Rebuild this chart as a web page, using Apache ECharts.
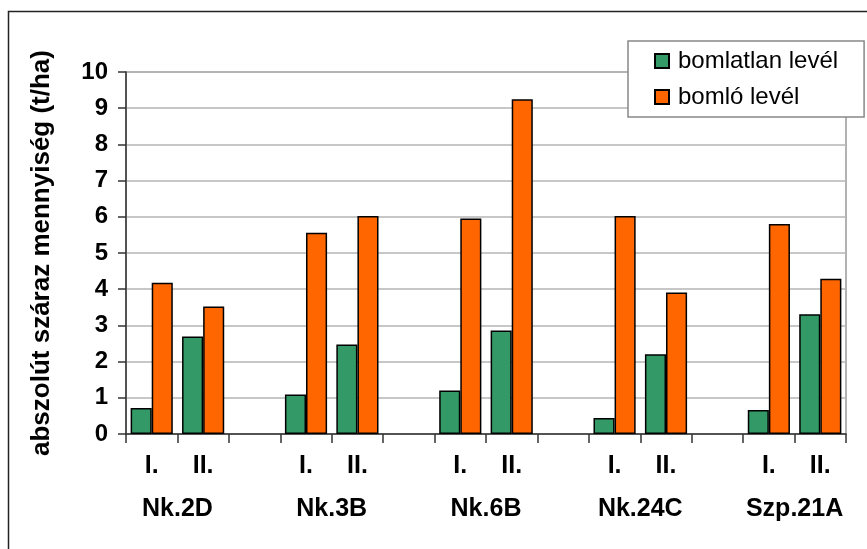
<!DOCTYPE html>
<html>
<head>
<meta charset="utf-8">
<script src="https://cdn.jsdelivr.net/npm/echarts@6/dist/echarts.min.js"></script>
<style>
html,body{margin:0;padding:0;background:#fff;}
#chart{width:867px;height:549px;}
</style>
</head>
<body>
<div id="chart"></div>
<script>
// ---- data ----
var groups = ['Nk.2D', 'Nk.3B', 'Nk.6B', 'Nk.24C', 'Szp.21A'];
var subLabels = ['I.', 'II.'];
var seriesNames = ['bomlatlan levél', 'bomló levél'];
var bomlatlan = [[0.72, 2.69], [1.09, 2.47], [1.20, 2.86], [0.44, 2.20], [0.66, 3.31]];
var bomlo = [[4.18, 3.52], [5.56, 6.02], [5.95, 9.25], [6.02, 3.91], [5.80, 4.29]];
var yTicks = [0, 1, 2, 3, 4, 5, 6, 7, 8, 9, 10];
var yTitle = 'abszolút száraz mennyiség (t/ha)';

// ---- build category slots (with an empty spacer between groups) ----
var categories = [];
var groupPos = [];
function flatten(vals) {
  var out = [];
  vals.forEach(function (pair, gi) {
    if (gi > 0) out.push(null);
    pair.forEach(function (v) { out.push(v); });
  });
  return out;
}
groups.forEach(function (g, gi) {
  if (gi > 0) categories.push('');
  groupPos.push(categories.length + 1);
  subLabels.forEach(function (s) { categories.push(s); });
});

var FONT = 'Arial, "Liberation Sans", sans-serif';
var chart = echarts.init(document.getElementById('chart'));
chart.setOption({
  animation: false,
  backgroundColor: '#fff',
  graphic: [{
    type: 'rect',
    shape: { x: 8.5, y: 11.5, width: 900, height: 600 },
    style: { fill: 'none', stroke: '#222', lineWidth: 1.5 },
    silent: true
  }],
  grid: {
    left: 126, right: 21, top: 72, bottom: 115,
    show: true, borderColor: '#999', borderWidth: 1.5, backgroundColor: 'transparent'
  },
  legend: {
    orient: 'vertical',
    left: 628, top: 41,
    padding: [8, 26, 8, 26],
    itemWidth: 14, itemHeight: 14, itemGap: 12,
    icon: 'rect',
    backgroundColor: '#fff',
    borderColor: '#888', borderWidth: 1.5,
    textStyle: { fontFamily: FONT, fontSize: 24, color: '#000', padding: [0, 0, 0, 4] },
    data: seriesNames
  },
  xAxis: [{
    type: 'category',
    data: categories,
    axisLine: { show: true, lineStyle: { color: '#333', width: 1.5 } },
    axisTick: { show: true, length: 9, interval: 0, lineStyle: { color: '#333', width: 1.5 } },
    axisLabel: { interval: 0, margin: 20, fontFamily: FONT, fontSize: 25, fontWeight: 'bold', color: '#000' },
    splitLine: { show: false }
  }, {
    type: 'value',
    position: 'bottom',
    min: 0, max: categories.length, interval: 1,
    axisLine: { show: false }, axisTick: { show: false }, splitLine: { show: false },
    axisLabel: {
      margin: 63, fontFamily: FONT, fontSize: 25, fontWeight: 'bold', color: '#000',
      showMinLabel: true, showMaxLabel: true,
      formatter: function (v) { var i = groupPos.indexOf(v); return i >= 0 ? groups[i] : ''; }
    }
  }],
  yAxis: {
    type: 'value',
    min: yTicks[0], max: yTicks[yTicks.length - 1], interval: 1,
    name: yTitle,
    nameLocation: 'middle',
    nameGap: 71,
    nameTextStyle: { fontFamily: FONT, fontSize: 26, fontWeight: 'bold', color: '#000' },
    axisLine: { show: true, lineStyle: { color: '#333', width: 1.5 } },
    axisTick: { show: true, length: 8, lineStyle: { color: '#333', width: 1.5 } },
    axisLabel: { margin: 18, fontFamily: FONT, fontSize: 24, fontWeight: 'bold', color: '#000' },
    splitLine: { show: true, lineStyle: { color: '#b4b4b4', width: 1.5 } }
  },
  series: [{
    name: seriesNames[0],
    type: 'bar',
    data: flatten(bomlatlan),
    barGap: '0%',
    barCategoryGap: '18%',
    itemStyle: { color: '#339966', borderColor: '#000', borderWidth: 1.5 }
  }, {
    name: seriesNames[1],
    type: 'bar',
    data: flatten(bomlo),
    barGap: '0%',
    barCategoryGap: '18%',
    itemStyle: { color: '#ff6600', borderColor: '#000', borderWidth: 1.5 }
  }]
});
</script>
</body>
</html>
